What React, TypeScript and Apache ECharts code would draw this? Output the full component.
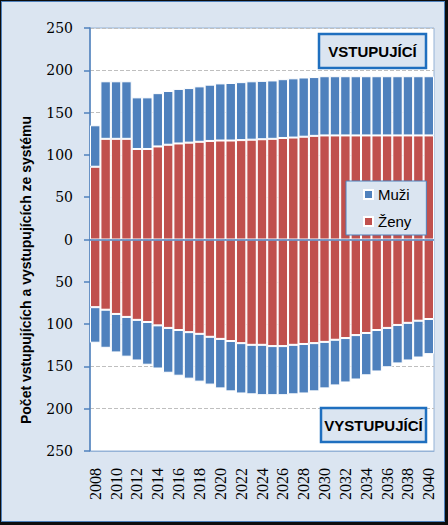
import React, { useEffect, useRef } from "react";
import * as echarts from "echarts";

const years: string[] = [];
for (let y = 2008; y <= 2040; y++) years.push(String(y));

// Vstupující (upper half)
const inZeny = [86, 119, 119, 119, 107, 107, 110, 112, 113.5, 114.5, 115.5, 116.5, 117, 117, 117.5, 118, 118.5, 119, 120, 120.5, 121.5, 122.5, 123, 123, 123, 123, 123, 123, 123, 123, 123, 123, 123];
const inMuzi = [49, 68, 68, 68, 61, 61, 63, 63.5, 64.5, 64.5, 65.5, 66.5, 67.5, 68, 68.5, 69, 69, 69, 69.5, 70, 70, 69.5, 70, 70, 70, 70, 70, 70, 70, 70, 70, 70, 70];

// Vystupující (lower half, magnitudes)
const outZeny = [80, 83, 88, 91.5, 95, 97.5, 101.5, 104.5, 107, 109.5, 111.5, 115, 117.5, 120, 122.5, 124.5, 124.5, 126, 126, 124.5, 123.5, 122.5, 121, 118.5, 116.5, 113, 110.5, 107, 104.5, 101, 98.5, 96, 94];
const outMuzi = [42, 45, 45.5, 47, 48, 50.5, 51, 53, 54, 55, 56.5, 56.5, 58.5, 59.5, 59.5, 58.5, 59.5, 58, 58, 58.5, 58.5, 57, 55, 54, 52.5, 52.5, 50, 49, 46.5, 45.5, 44.5, 43.5, 41.5];

const BLUE = "#4f81bd";
const RED = "#c0504d";
const BG = "#dbe5f1";
const SANS = "'Liberation Sans', Arial, sans-serif";
const SERIF = "'Liberation Serif', 'Times New Roman', serif";
const SERIF_Y = "'DejaVu Serif', serif";

export default function App() {
  const ref = useRef<HTMLDivElement>(null);
  useEffect(() => {
    if (!ref.current) return;
    const chart = echarts.init(ref.current, undefined, { renderer: "svg" });
    const barCommon = {
      type: "bar" as const,
      barCategoryGap: "0%",
      barGap: "-100%",
      itemStyle: { borderColor: "#fff", borderWidth: 1 },
    };
    chart.setOption({
      animation: false,
      backgroundColor: "transparent",
      grid: {
        left: 90,
        right: 14,
        top: 28,
        bottom: 74,
        show: true,
        backgroundColor: "#fff",
        borderColor: "#95b3d7",
        borderWidth: 1,
      },
      legend: {
        data: ["Muži", "Ženy"],
        orient: "vertical",
        left: 346,
        top: 181,
        icon: "rect",
        itemWidth: 9,
        itemHeight: 9,
        itemGap: 10,
        padding: [5, 15, 5, 17],
        backgroundColor: BG,
        borderColor: BLUE,
        borderWidth: 1,
        textStyle: { fontFamily: SANS, fontSize: 15, color: "#000", lineHeight: 17 },
      },
      xAxis: {
        type: "category",
        data: years,
        position: "bottom",
        axisLine: { onZero: false, lineStyle: { color: "#95b3d7", width: 1 } },
        axisTick: { show: false },
        axisLabel: {
          interval: 1,
          rotate: 90,
          margin: 17,
          fontFamily: SERIF,
          fontSize: 16,
          color: "#000",
        },
        splitLine: { show: false },
      },
      yAxis: {
        type: "value",
        min: -250,
        max: 250,
        interval: 50,
        axisLine: { show: true, lineStyle: { color: BLUE, width: 1.5 } },
        axisTick: { show: true, length: 6, lineStyle: { color: BLUE, width: 1.5 } },
        axisLabel: {
          formatter: (v: number) => String(Math.abs(v)),
          margin: 17,
          fontFamily: SERIF_Y,
          fontSize: 14,
          color: "#000",
        },
        splitLine: { show: true, lineStyle: { color: "#bfbfbf", type: "dashed", width: 1 } },
      },
      series: [
        { ...barCommon, name: "Ženy", stack: "in", data: inZeny, itemStyle: { ...barCommon.itemStyle, color: RED } },
        { ...barCommon, name: "Muži", stack: "in", data: inMuzi, itemStyle: { ...barCommon.itemStyle, color: BLUE } },
        { ...barCommon, name: "Ženy", stack: "out", data: outZeny.map((v) => -v), itemStyle: { ...barCommon.itemStyle, color: RED } },
        {
          ...barCommon,
          name: "Muži",
          stack: "out",
          data: outMuzi.map((v) => -v),
          itemStyle: { ...barCommon.itemStyle, color: BLUE },
          markLine: {
            silent: true,
            symbol: "none",
            label: { show: false },
            lineStyle: { color: BLUE, type: "solid", width: 1.5 },
            data: [{ yAxis: 0 }],
          },
        },
      ],
      graphic: [
        {
          type: "text",
          x: 26,
          y: 270,
          rotation: Math.PI / 2,
          style: {
            text: "Počet vstupujících a vystupujících ze systému",
            fontFamily: SANS,
            fontWeight: "bold",
            fontSize: 14,
            fill: "#000",
            align: "center",
            verticalAlign: "middle",
          },
        },
        {
          type: "rect",
          shape: { x: 319, y: 34, width: 107, height: 34 },
          style: { fill: BG, stroke: "#1f6fbf", lineWidth: 2.5 },
          z: 100,
        },
        {
          type: "text",
          x: 372.5,
          y: 51.5,
          z: 101,
          style: {
            text: "VSTUPUJÍCÍ",
            fontFamily: SANS,
            fontWeight: "bold",
            fontSize: 15,
            fill: "#000",
            align: "center",
            verticalAlign: "middle",
          },
        },
        {
          type: "rect",
          shape: { x: 321, y: 408, width: 105, height: 34 },
          style: { fill: BG, stroke: "#1f6fbf", lineWidth: 2.5 },
          z: 100,
        },
        {
          type: "text",
          x: 373.5,
          y: 425.5,
          z: 101,
          style: {
            text: "VYSTUPUJÍCÍ",
            fontFamily: SANS,
            fontWeight: "bold",
            fontSize: 15,
            fill: "#000",
            align: "center",
            verticalAlign: "middle",
          },
        },
      ],
    });
    return () => chart.dispose();
  }, []);

  return (
    <div style={{ position: "fixed", left: 0, top: 0, width: 448, height: 525, background: "#0d0d0d" }}>
      <div
        style={{
          position: "absolute",
          left: 1,
          top: 1,
          width: 444,
          height: 521,
          boxSizing: "border-box",
          border: `1px solid ${BLUE}`,
          background: BG,
        }}
      />
      <div ref={ref} style={{ position: "absolute", left: 0, top: 0, width: 448, height: 525 }} />
    </div>
  );
}
